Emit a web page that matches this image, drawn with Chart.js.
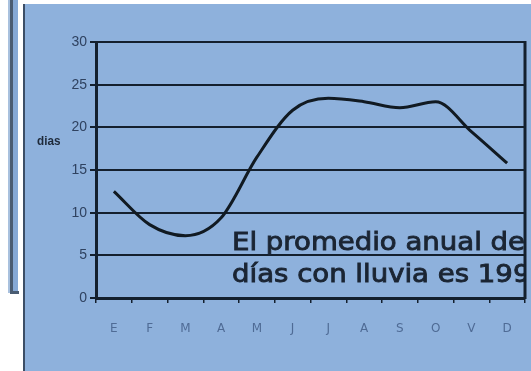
<!DOCTYPE html>
<html><head><meta charset="utf-8">
<script src="https://cdn.jsdelivr.net/npm/chart.js@4"></script>
<style>html,body{margin:0;padding:0;background:#fff;}#wrap{width:531px;height:371px;position:relative;}</style>
</head><body><div id="wrap"><canvas id="c" width="531" height="371"></canvas></div>
<script>
const months = ['E','F','M','A','M','J','J','A','S','O','V','D'];
const rainyDays = [12.5, 8.6, 7.3, 9.4, 16.5, 22.0, 23.4, 23.0, 22.3, 23.0, 19.5, 15.8];
const yTicks = [0, 5, 10, 15, 20, 25, 30];
const yTitle = 'dias';
const note = ['El promedio anual de', 'días con lluvia es 199'];

const bgPlugin = {
  id: 'bg',
  beforeDraw(chart) {
    const ctx = chart.ctx;
    ctx.save();
    ctx.fillStyle = '#ffffff';
    ctx.fillRect(0, 0, chart.width, chart.height);
    // left strip
    ctx.fillStyle = '#a9c1de'; ctx.fillRect(8, 0, 2, 293);
    ctx.fillStyle = '#4a5c72'; ctx.fillRect(10, 0, 3, 294);
    ctx.fillStyle = '#86a9d6'; ctx.fillRect(13, 0, 5, 292);
    ctx.fillStyle = '#4a5c72'; ctx.fillRect(10, 291, 9, 3);
    // main panel
    ctx.fillStyle = '#8eb1dc'; ctx.fillRect(23, 4, chart.width - 23, chart.height - 4);
    ctx.fillStyle = '#3c4e66'; ctx.fillRect(23, 4, 2, chart.height - 4);
    ctx.restore();
  },
  afterDraw(chart) {
    const ctx = chart.ctx, a = chart.chartArea, y = chart.scales.y;
    ctx.save();
    // right border of plot
    ctx.strokeStyle = '#14202e'; ctx.lineWidth = 3;
    ctx.beginPath(); ctx.moveTo(a.right, a.top - 1); ctx.lineTo(a.right, a.bottom + 1); ctx.stroke();
    // y title
    ctx.fillStyle = '#1e2a3a';
    ctx.font = 'bold 13px "Liberation Sans", sans-serif';
    ctx.textBaseline = 'middle'; ctx.textAlign = 'left';
    ctx.save();
    ctx.translate(37, y.getPixelForValue(18.4));
    ctx.scale(0.9, 1);
    ctx.fillText(yTitle, 0, 0);
    ctx.restore();
    // note
    ctx.beginPath(); ctx.rect(a.left, a.top, a.right - a.left - 1, a.bottom - a.top); ctx.clip();
    ctx.fillStyle = '#1b2533';
    ctx.strokeStyle = '#1b2533';
    ctx.lineWidth = 0.9;
    ctx.font = '25px "DejaVu Sans", sans-serif';
    const w = ctx.measureText(note[0]).width;
    const sx = 293 / w;
    ctx.textBaseline = 'alphabetic';
    [[note[0], 5.6], [note[1], 1.85]].forEach(([t, v]) => {
      ctx.save();
      ctx.translate(a.right - 293, y.getPixelForValue(v));
      ctx.scale(sx, 1);
      ctx.fillText(t, 0, 0);
      ctx.strokeText(t, 0, 0);
      ctx.restore();
    });
    ctx.restore();
  }
};

new Chart(document.getElementById('c'), {
  type: 'line',
  data: {
    labels: months,
    datasets: [{
      data: rainyDays,
      borderColor: '#111a22',
      borderWidth: 3,
      pointRadius: 0,
      tension: 0.4,
      cubicInterpolationMode: 'monotone',
      fill: false
    }]
  },
  options: {
    responsive: false,
    animation: false,
    devicePixelRatio: 1,
    layout: { padding: { left: 0, top: 42, right: 6, bottom: 0 } },
    plugins: { legend: { display: false }, tooltip: { enabled: false } },
    scales: {
      x: {
        offset: true,
        afterFit(s) { s.height = 73; },
        grid: { offset: true, drawOnChartArea: false, drawTicks: true, tickLength: 5, color: '#14202e', lineWidth: 1.5 },
        border: { display: true, color: '#14202e', width: 3 },
        ticks: { color: '#4f6b95', font: { family: '"DejaVu Sans", sans-serif', size: 12 }, padding: 19, maxRotation: 0, autoSkip: false }
      },
      y: {
        min: 0, max: 30,
        afterFit(s) { s.width = 96; },
        afterBuildTicks(s) { s.ticks = yTicks.map(v => ({ value: v })); },
        grid: { color: '#14202e', lineWidth: 2, drawTicks: true, tickLength: 6 },
        border: { display: true, color: '#14202e', width: 3 },
        ticks: { color: '#2f4260', font: { family: '"Liberation Sans", sans-serif', size: 14 }, padding: 3 }
      }
    }
  },
  plugins: [bgPlugin]
});
</script></body></html>
